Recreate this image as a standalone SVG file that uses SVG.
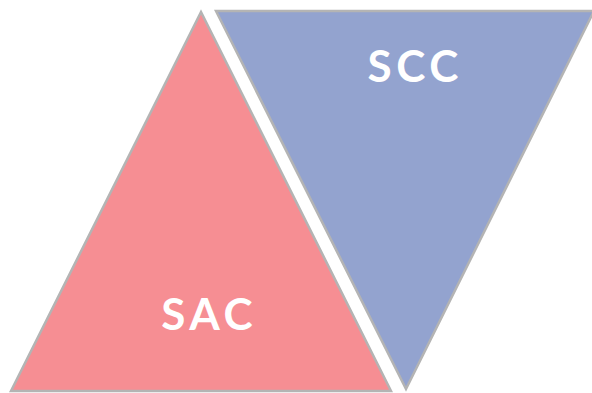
<svg xmlns="http://www.w3.org/2000/svg" width="592" height="393" viewBox="0 0 592 393">
<style>
.tri{stroke:#b4b4b4;stroke-width:2.5;stroke-linejoin:miter}
.lbl{font-family:Lato,"Open Sans",sans-serif;font-weight:bold;font-size:44px;fill:#ffffff;letter-spacing:4.5px}
</style>
<rect width="592" height="393" fill="#ffffff"/>
<g id="sac">
<polygon class="tri" points="201,12 11,391 391,391" fill="#f68e93"/>
<text class="lbl" x="207" y="330" text-anchor="middle" dx="2.2">SAC</text>
</g>
<g id="scc">
<polygon class="tri" points="216,11 594,11 406,389" fill="#93a3cf"/>
<text class="lbl" x="413" y="82" text-anchor="middle" dx="2.2">SCC</text>
</g>
<g id="connectors"></g>
</svg>
